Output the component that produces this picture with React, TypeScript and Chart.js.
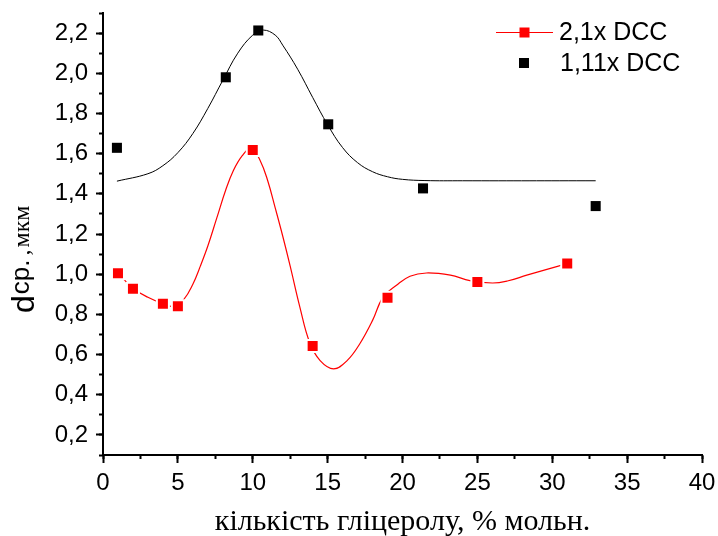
import React, { useEffect, useRef } from 'react';
import { Chart, registerables } from 'chart.js';

Chart.register(...registerables);

// ---- data ----
const seriesNames = ['2,1x DCC', '1,11x DCC'];

const redX = [1, 2, 4, 5, 10, 14, 19, 25, 31];
const redY = [1.005, 0.928, 0.853, 0.84, 1.618, 0.642, 0.883, 0.961, 1.053];

const blackX = [0.93, 8.2, 10.37, 15.04, 21.37, 32.9];
const blackY = [1.629, 1.98, 2.213, 1.746, 1.427, 1.339];

// fitted curves
const redFitX = [1, 2, 3, 4, 4.7, 5.4, 6, 6.5, 7, 7.6, 8.2, 8.7, 9.3, 9.9, 10.5, 11, 11.5, 12, 12.5, 13.15, 13.8, 14.5, 15.4, 16.3, 17.15, 18, 18.7, 19.6, 20.5, 21.6, 23.2, 24.5, 26, 27, 28.3, 29.7, 31];
const redFitY = [1.005, 0.93, 0.885, 0.853, 0.84, 0.875, 0.95, 1.04, 1.14, 1.28, 1.42, 1.515, 1.59, 1.627, 1.565, 1.465, 1.33, 1.19, 1.04, 0.835, 0.66, 0.57, 0.529, 0.57, 0.654, 0.77, 0.886, 0.945, 0.99, 1.006, 0.995, 0.968, 0.956, 0.966, 0.995, 1.025, 1.053];

const blackFitX = [0.93, 3, 4, 5, 6, 7, 8, 9, 10, 10.7, 11.5, 12, 13, 14, 15, 16, 17, 18, 19, 20, 21.5, 24, 32.9];
const blackFitY = [1.463, 1.5, 1.54, 1.605, 1.7, 1.825, 1.965, 2.1, 2.19, 2.215, 2.19, 2.14, 2.02, 1.88, 1.744, 1.63, 1.555, 1.51, 1.485, 1.472, 1.466, 1.465, 1.465];

const xMajorTicks = [0, 5, 10, 15, 20, 25, 30, 35, 40];
const xTickLabels = ['0', '5', '10', '15', '20', '25', '30', '35', '40'];
const yMajorTicks = [0.2, 0.4, 0.6, 0.8, 1.0, 1.2, 1.4, 1.6, 1.8, 2.0, 2.2];
const yTickLabels = ['0,2', '0,4', '0,6', '0,8', '1,0', '1,2', '1,4', '1,6', '1,8', '2,0', '2,2'];

const xTitle = 'кількість гліцеролу, % мольн.';
const yTitleMain = 'd';
const yTitleSub = 'cp';
const yTitleDot = '.';
const yTitleComma = ',';
const yTitleUnit = 'мкм';

const RED = '#ff0000';
const BLACK = '#000000';
const SANS = '"Liberation Sans", Arial, sans-serif';
const SERIF = '"Liberation Serif", "Times New Roman", serif';

const zip = (xs: number[], ys: number[]) => xs.map((x, i) => ({ x, y: ys[i] }));

const labelFor = (values: number[], labels: string[], v: number) => {
  const i = values.findIndex((t) => Math.abs(t - v) < 1e-6);
  return i >= 0 ? labels[i] : '';
};

const annotate = {
  id: 'annotate',
  afterDraw(chart: any) {
    const ctx = chart.ctx as CanvasRenderingContext2D;
    const area = chart.chartArea;
    ctx.save();
    ctx.fillStyle = '#000';
    // x title
    ctx.font = `30px ${SERIF}`;
    ctx.textAlign = 'center';
    ctx.textBaseline = 'alphabetic';
    ctx.fillText(xTitle, (area.left + area.right) / 2, 530);

    // y title (rotated, reads bottom to top)
    ctx.save();
    ctx.translate(34, 313);
    ctx.rotate(-Math.PI / 2);
    ctx.textAlign = 'left';
    ctx.font = `32px ${SANS}`;
    ctx.fillText(yTitleMain, 0, 0);
    let w = ctx.measureText(yTitleMain).width + 1;
    ctx.font = `26px ${SANS}`;
    ctx.fillText(yTitleSub, w, -5);
    w += ctx.measureText(yTitleSub).width;
    ctx.fillText(yTitleDot, w, -5);
    w += ctx.measureText(yTitleDot).width + 4;
    ctx.font = `24px ${SERIF}`;
    ctx.fillText(yTitleComma, w, -5);
    w += ctx.measureText(yTitleComma).width + 2;
    ctx.fillText(yTitleUnit, w, -5);
    ctx.restore();

    // legend
    ctx.textAlign = 'left';
    ctx.textBaseline = 'middle';
    ctx.font = `25px ${SANS}`;
    ctx.strokeStyle = RED;
    ctx.lineWidth = 1;
    ctx.beginPath();
    ctx.moveTo(496, 32.5);
    ctx.lineTo(553, 32.5);
    ctx.stroke();
    ctx.fillStyle = RED;
    ctx.fillRect(519.5, 27.5, 10, 10);
    ctx.fillStyle = '#000';
    ctx.fillText(seriesNames[0], 559, 33);
    ctx.fillStyle = BLACK;
    ctx.fillRect(519, 58, 10, 10);
    ctx.fillStyle = '#000';
    ctx.fillText(seriesNames[1], 560, 64);
    ctx.restore();
  },
};

export default function App() {
  const ref = useRef<HTMLCanvasElement | null>(null);

  useEffect(() => {
    if (!ref.current) return;
    const axisBase = {
      type: 'linear' as const,
      grid: {
        display: true,
        drawOnChartArea: false,
        drawTicks: true,
        tickWidth: 2,
        tickColor: '#000',
        color: '#000',
      },
    };
    const chart = new Chart(ref.current, {
      type: 'scatter',
      data: {
        datasets: [
          {
            label: seriesNames[0],
            data: zip(redX, redY),
            showLine: false,
            pointStyle: 'rect',
            pointRadius: 8.5,
            pointHoverRadius: 8.5,
            backgroundColor: RED,
            borderColor: '#ffffff',
            borderWidth: 2,
          },
          {
            label: seriesNames[1],
            data: zip(blackX, blackY),
            showLine: false,
            pointStyle: 'rect',
            pointRadius: 7.1,
            pointHoverRadius: 7.1,
            backgroundColor: BLACK,
            borderColor: BLACK,
            borderWidth: 0,
          },
          {
            label: 'fit-red',
            data: zip(redFitX, redFitY),
            showLine: true,
            pointRadius: 0,
            borderColor: RED,
            borderWidth: 1.2,
            tension: 0.4,
          },
          {
            label: 'fit-black',
            data: zip(blackFitX, blackFitY),
            showLine: true,
            pointRadius: 0,
            borderColor: BLACK,
            borderWidth: 1,
            tension: 0.4,
          },
        ],
      },
      options: {
        responsive: false,
        animation: false,
        events: [],
        layout: { padding: { left: 0, right: 16, top: 13, bottom: 0 } },
        plugins: {
          legend: { display: false },
          tooltip: { enabled: false },
          title: { display: false },
        },
        scales: {
          x: {
            ...axisBase,
            position: 'bottom',
            weight: 1,
            min: 0,
            max: 40,
            afterBuildTicks: (s: any) => {
              s.ticks = xMajorTicks.map((v) => ({ value: v }));
            },
            ticks: {
              autoSkip: false,
              maxRotation: 0,
              color: '#000',
              font: { family: SANS, size: 24 },
              padding: 6,
              callback: (v: any) => labelFor(xMajorTicks, xTickLabels, Number(v)),
            },
            grid: { ...axisBase.grid, tickLength: 8 },
            border: { display: true, color: '#000', width: 2 },
            afterFit: (s: any) => {
              s.height = 81;
              s.paddingLeft = 0;
              s.paddingRight = 0;
            },
          },
          xMinor: {
            ...axisBase,
            position: 'bottom',
            weight: 0,
            min: 0,
            max: 40,
            ticks: { stepSize: 2.5, display: false },
            grid: { ...axisBase.grid, tickLength: 4 },
            border: { display: false },
            afterFit: (s: any) => {
              s.height = 0;
              s.paddingLeft = 0;
              s.paddingRight = 0;
            },
          },
          y: {
            ...axisBase,
            position: 'left',
            weight: 1,
            min: 0.1,
            max: 2.3,
            afterBuildTicks: (s: any) => {
              s.ticks = yMajorTicks.map((v) => ({ value: v }));
            },
            ticks: {
              autoSkip: false,
              color: '#000',
              font: { family: SANS, size: 24 },
              padding: 8,
              callback: (v: any) => labelFor(yMajorTicks, yTickLabels, Number(v)),
            },
            grid: { ...axisBase.grid, tickLength: 7 },
            border: { display: true, color: '#000', width: 2 },
            afterFit: (s: any) => {
              s.width = 103;
              s.paddingTop = 0;
              s.paddingBottom = 0;
            },
          },
          yMinor: {
            ...axisBase,
            position: 'left',
            weight: 0,
            min: 0.1,
            max: 2.3,
            ticks: { stepSize: 0.1, display: false },
            grid: { ...axisBase.grid, tickLength: 4 },
            border: { display: false },
            afterFit: (s: any) => {
              s.width = 0;
              s.paddingTop = 0;
              s.paddingBottom = 0;
            },
          },
        },
      },
      plugins: [annotate],
    } as any);
    return () => chart.destroy();
  }, []);

  return (
    <div style={{ position: 'fixed', left: 0, top: 0, width: 718, height: 536, background: '#fff' }}>
      <canvas ref={ref} width={718} height={536} style={{ display: 'block' }} />
    </div>
  );
}
